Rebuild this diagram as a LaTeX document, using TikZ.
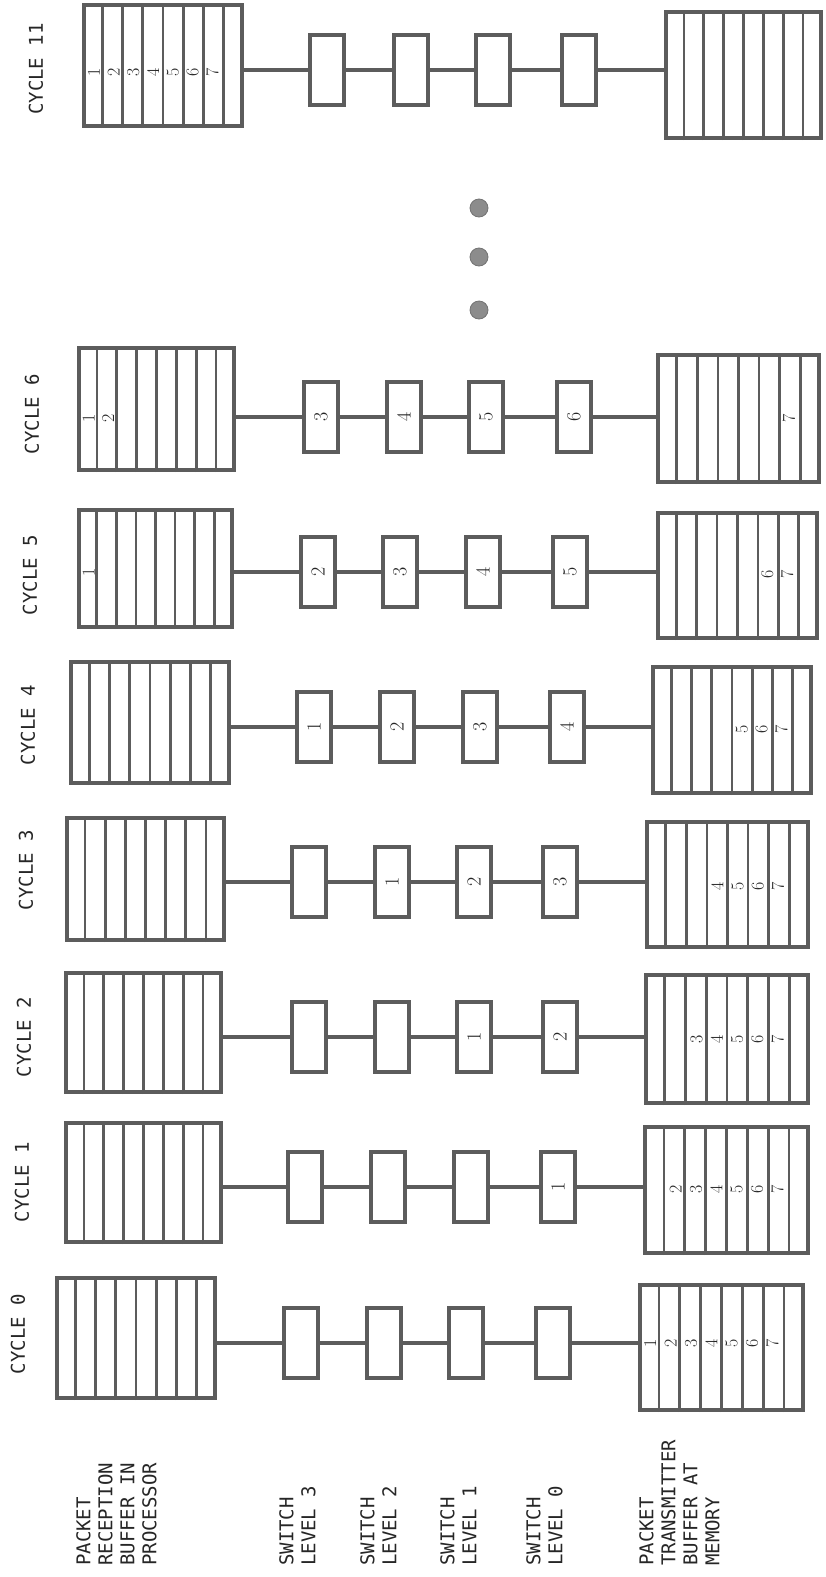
\documentclass[tikz,border=0pt]{standalone}
\usepackage{fontspec}
\setmonofont{DejaVu Sans Mono}
\usetikzlibrary{calc}
\definecolor{ink}{gray}{0.36}
\definecolor{txt}{gray}{0.15}
\tikzset{
  bufbox/.style={draw=ink, line width=4pt, fill=white, rectangle, inner sep=0pt},
  slotline/.style={draw=ink, line width=2.6pt},
  swbox/.style={draw=ink, line width=3.8pt, fill=white, rectangle, inner sep=0pt,
    minimum width=34pt, minimum height=70pt, text=txt, font=\rmfamily\fontsize{20}{20}\selectfont},
  conn/.style={draw=ink, line width=3.2pt},
  digit/.style={rotate=90, inner sep=0pt, text=txt, font=\rmfamily\fontsize{18}{18}\selectfont},
  cyc/.style={rotate=90, inner sep=0pt, text=txt, font=\ttfamily\fontsize{19}{21}\selectfont},
  lab/.style={rotate=90, anchor=north west, inner sep=0pt, align=left, text=txt, font=\ttfamily\fontsize{19}{22}\selectfont},
  dotnode/.style={circle, fill=black!45, draw=black!55, line width=0.8pt, minimum size=18pt, inner sep=0pt}
}
\newcommand\mkbuf[5]{%
  \node[bufbox, minimum width={#4pt-#2pt}, minimum height={#5pt-#3pt}] (#1) at ({(#2+#4)/2},{(#3+#5)/2}) {};
  \foreach \k in {1,...,7}{\draw[slotline] ($(#1.south west)!\k/8!(#1.south east)$) -- ($(#1.north west)!\k/8!(#1.north east)$);}
}
\newcommand\mksw[4]{%
  \node[swbox] (#1) at ({#2+17},#3) {\rotatebox{90}{#4}};
}
\newcommand\mklinks[1]{%
  \draw[conn] (#1L.east |- #1s3) -- (#1s3.west);
  \draw[conn] (#1s3.east) -- (#1s2.west);
  \draw[conn] (#1s2.east) -- (#1s1.west);
  \draw[conn] (#1s1.east) -- (#1s0.west);
  \draw[conn] (#1s0.east) -- (#1R.west |- #1s0);
}
\newcommand\bd[5]{%
  \node[digit] (#1) at ({#2+(#5-0.5)*(#3-#2)/8},#4) {#5};
}
\begin{document}
\begin{tikzpicture}[x=1pt,y=-1pt]
\useasboundingbox[fill=white] (0,0) rectangle (825,1577);

% ---------- CYCLE 11 ----------
\node[cyc] (c11lab) at (36,69) {CYCLE 11};
\mksw{c11s3}{310}{70}{}
\mksw{c11s2}{394}{70}{}
\mksw{c11s1}{476}{70}{}
\mksw{c11s0}{562}{70}{}
\mkbuf{c11L}{84}{5}{242}{126}
\mkbuf{c11R}{666}{12}{821}{138}
\mklinks{c11}
\foreach \k in {1,...,7}{\bd{c11r\k}{84}{242}{72}{\k}}

% ---------- dots ----------
\node[dotnode] (dotA) at (479,208) {};
\node[dotnode] (dotB) at (479,257) {};
\node[dotnode] (dotC) at (479,310) {};

% ---------- CYCLE 6 ----------
\node[cyc] (c6lab) at (32,414) {CYCLE 6};
\mksw{c6s3}{304}{417}{3}
\mksw{c6s2}{387}{417}{4}
\mksw{c6s1}{469}{417}{5}
\mksw{c6s0}{557}{417}{6}
\mkbuf{c6L}{79}{348}{234}{470}
\mkbuf{c6R}{658}{355}{819}{482}
\mklinks{c6}
\bd{c6r1}{79}{234}{418}{1}
\bd{c6r2}{79}{234}{418}{2}
\bd{c6t7}{658}{819}{418}{7}

% ---------- CYCLE 5 ----------
\node[cyc] (c5lab) at (30,575) {CYCLE 5};
\mksw{c5s3}{301}{572}{2}
\mksw{c5s2}{383}{572}{3}
\mksw{c5s1}{466}{572}{4}
\mksw{c5s0}{553}{572}{5}
\mkbuf{c5L}{79}{510}{232}{627}
\mkbuf{c5R}{658}{513}{817}{638}
\mklinks{c5}
\bd{c5r1}{79}{232}{572}{1}
\bd{c5t6}{658}{817}{574}{6}
\bd{c5t7}{658}{817}{574}{7}

% ---------- CYCLE 4 ----------
\node[cyc] (c4lab) at (28,725) {CYCLE 4};
\mksw{c4s3}{297}{727}{1}
\mksw{c4s2}{380}{727}{2}
\mksw{c4s1}{463}{727}{3}
\mksw{c4s0}{550}{727}{4}
\mkbuf{c4L}{71}{662}{229}{783}
\mkbuf{c4R}{653}{667}{811}{793}
\mklinks{c4}
\foreach \k in {5,6,7}{\bd{c4t\k}{653}{811}{729}{\k}}

% ---------- CYCLE 3 ----------
\node[cyc] (c3lab) at (26,870) {CYCLE 3};
\mksw{c3s3}{292}{882}{}
\mksw{c3s2}{375}{882}{1}
\mksw{c3s1}{457}{882}{2}
\mksw{c3s0}{543}{882}{3}
\mkbuf{c3L}{67}{818}{224}{940}
\mkbuf{c3R}{647}{822}{808}{947}
\mklinks{c3}
\foreach \k in {4,5,6,7}{\bd{c3t\k}{647}{808}{886}{\k}}

% ---------- CYCLE 2 ----------
\node[cyc] (c2lab) at (24,1037) {CYCLE 2};
\mksw{c2s3}{292}{1037}{}
\mksw{c2s2}{375}{1037}{}
\mksw{c2s1}{457}{1037}{1}
\mksw{c2s0}{543}{1037}{2}
\mkbuf{c2L}{66}{973}{221}{1092}
\mkbuf{c2R}{646}{975}{808}{1103}
\mklinks{c2}
\foreach \k in {3,4,5,6,7}{\bd{c2t\k}{646}{808}{1039}{\k}}

% ---------- CYCLE 1 ----------
\node[cyc] (c1lab) at (22,1182) {CYCLE 1};
\mksw{c1s3}{288}{1187}{}
\mksw{c1s2}{371}{1187}{}
\mksw{c1s1}{454}{1187}{}
\mksw{c1s0}{541}{1187}{1}
\mkbuf{c1L}{66}{1123}{221}{1242}
\mkbuf{c1R}{645}{1127}{808}{1253}
\mklinks{c1}
\foreach \k in {2,...,7}{\bd{c1t\k}{645}{808}{1189}{\k}}

% ---------- CYCLE 0 ----------
\node[cyc] (c0lab) at (18,1334) {CYCLE 0};
\mksw{c0s3}{284}{1343}{}
\mksw{c0s2}{367}{1343}{}
\mksw{c0s1}{449}{1343}{}
\mksw{c0s0}{536}{1343}{}
\mkbuf{c0L}{57}{1278}{215}{1398}
\mkbuf{c0R}{640}{1285}{803}{1410}
\mklinks{c0}
\foreach \k in {1,...,7}{\bd{c0t\k}{640}{803}{1343}{\k}}

% ---------- row labels ----------
\node[lab] (labRec) at (76,1566) {PACKET\\RECEPTION\\BUFFER IN\\PROCESSOR};
\node[lab] (labS3) at (279,1566) {SWITCH\\LEVEL 3};
\node[lab] (labS2) at (360,1566) {SWITCH\\LEVEL 2};
\node[lab] (labS1) at (440,1566) {SWITCH\\LEVEL 1};
\node[lab] (labS0) at (526,1566) {SWITCH\\LEVEL 0};
\node[lab] (labTr) at (639,1566) {PACKET\\TRANSMITTER\\BUFFER AT\\MEMORY};
\end{tikzpicture}
\end{document}
